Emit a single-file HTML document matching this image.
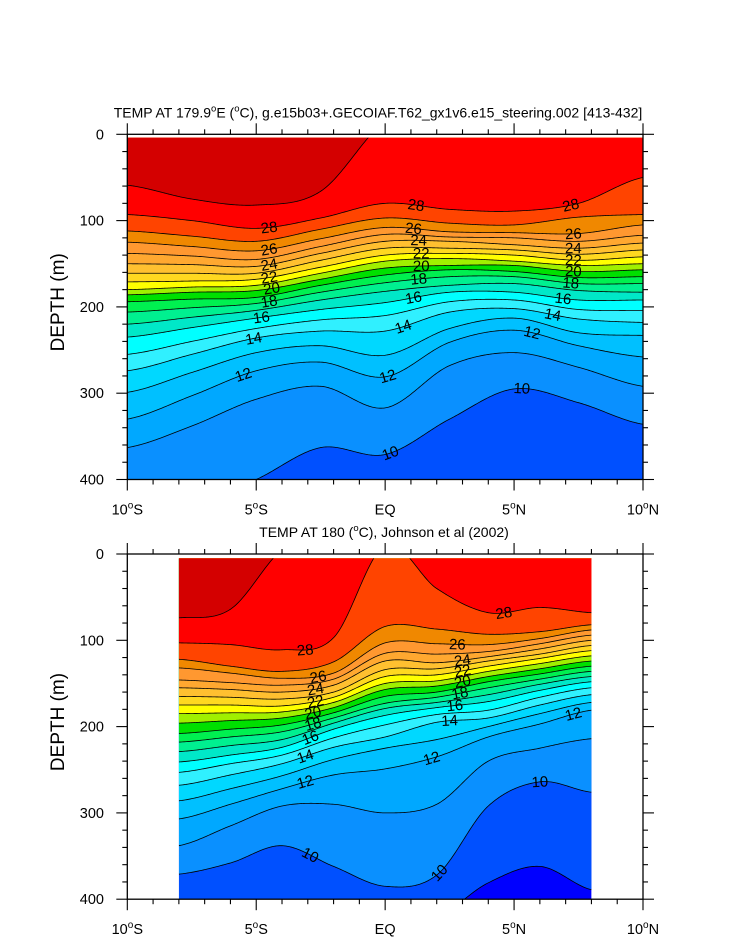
<!DOCTYPE html>
<html><head><meta charset="utf-8"><style>
html,body{margin:0;padding:0;background:#fff}
svg{display:block;font-family:"Liberation Sans",sans-serif}
</style></head><body>
<svg id="fig" width="733" height="945" viewBox="0 0 733 945" xmlns="http://www.w3.org/2000/svg"></svg>
<script>
const levels = [9,10,11,12,13,14,15,16,17,18,19,20,21,22,23,24,25,26,27,28,29];
const bandColors = ["#0050ff","#0a90ff","#00a8ff","#00c0ff","#00d8ff","#30f0ff","#00ffff","#00e8c8","#00f090","#00f050","#00e000","#a0f000","#ffff00","#ffd820","#ffc030","#ffa830","#ff9830","#f08800","#ff4400","#ff0000","#d40000"];
const belowColor = "#0000ff";

const topLats = [-10,-7.5,-5,-2.5,0,2.5,5,7.5,10];
const topDepths = [
 [450,450,450,450,450,450,450,450,450],
 [430,430,400,363,371,330,295,311,336],
 [363,338,307,292,317,268,253,270,292],
 [330,303,274,264,281,241,227,245,258],
 [299,276,253,245,256,225,213,230,233],
 [274,255,236,228,228,206,202,214,218],
 [255,240,225,215,210,194,192,203,204],
 [235,224,213,203,195,183,183,192,192],
 [220,212,204,192,182,175,173,181,183],
 [206,201,196,183,172,165,165,173,173],
 [194,191,189,175,163,157,159,166,165],
 [186,183,181,168,155,152,152,159,157],
 [180,177,175,161,147,144,147,152,150],
 [171,170,168,154,140,138,140,146,142],
 [161,161,161,146,132,132,134,139,134],
 [150,151,153,138,124,124,128,132,126],
 [138,141,145,130,116,119,120,124,117],
 [125,130,135,121,108,113,114,115,105],
 [112,118,124,110,97,103,105,96,93],
 [93,100,109,97,80,87,89,80,50],
 [59,75,82,66,-15,-40,-40,-40,-40]
];
const topLabelLats = [-4.5,-4.5,-4.5,-4.5,-4.4,-4.5,-4.8,-5.1,-5.5, 1.2,1.1,1.3,1.4,1.4,1.3,1.1,0.7,0.1,0.2, 7.2,7.3,7.3,7.3,7.3,7.2,6.9,6.5,5.7,5.3];
const topLabelLevels = [28,26,24,22,20,18,16,14,12, 28,26,24,22,20,18,16,14,12,10, 28,26,24,22,20,18,16,14,12,10];

const botLats = [-8,-6,-4,-2,0,2,4,6,8];
const botDepths = [
 [420,420,420,420,420,420,381,362,389],
 [371,358,338,362,385,372,292,264,276],
 [338,315,292,290,300,290,240,225,214],
 [307,290,272,256,249,235,212,197,181],
 [286,272,257,238,225,215,200,185,172],
 [268,256,243,224,212,195,190,175,163],
 [253,243,233,213,198,186,181,166,155],
 [241,233,224,203,187,178,171,158,148],
 [229,222,215,196,179,172,163,151,142],
 [218,212,206,190,173,166,155,145,136],
 [208,203,198,184,165,160,148,139,130],
 [196,193,190,178,157,153,142,133,124],
 [185,184,183,172,150,147,136,127,118],
 [175,175,176,166,142,140,130,121,112],
 [165,166,168,160,134,133,124,116,106],
 [155,157,160,152,124,126,119,110,100],
 [146,149,152,145,115,116,113,104,94],
 [132,138,144,138,103,104,105,98,88],
 [122,130,136,125,84,87,93,90,82],
 [103,105,111,97,-10,40,68,62,68],
 [74,64,-5,-30,-30,-30,-30,-30,-30]
];
const botLabelLats = [-3.1,-2.6,-2.7,-2.7,-2.8,-2.8,-2.9,-3.1,-3.1,-2.9, 4.6,2.8,3.0,3.0,3.0,2.9,2.7,2.5,1.8,2.1,6.0,7.3];
const botLabelLevels = [28,26,24,22,20,18,16,14,12,10, 28,26,24,22,20,18,16,14,12,10,10,12];

const xTickVals = [-10,-5,0,5,10];
const xTickLabels = [["10","S"],["5","S"],["EQ",""],["5","N"],["10","N"]];
const yTickVals = [0,100,200,300,400];

const NS = "http://www.w3.org/2000/svg";
const svg = document.getElementById("fig");
function mk(tag, attrs, parent){const e=document.createElementNS(NS,tag);for(const k in attrs)e.setAttribute(k,attrs[k]);(parent||svg).appendChild(e);return e;}

function curveAt(lats, vals, x){
  let i=0; while(i<lats.length-2 && x>lats[i+1]) i++;
  const t=(x-lats[i])/(lats[i+1]-lats[i]);
  const p0=vals[Math.max(0,i-1)], p1=vals[i], p2=vals[i+1], p3=vals[Math.min(vals.length-1,i+2)];
  const t2=t*t,t3=t2*t;
  return 0.5*((2*p1)+(-p0+p2)*t+(2*p0-5*p1+4*p2-p3)*t2+(-p0+3*p1-3*p2+p3)*t3);
}

function drawPanel(id, top, lats, depths, labLats, labLevels, dataLat0, dataLat1, dataD0, title){
  const L=127.3, R=643, H=345.2;
  const xs = lat => L + (lat+10)/20*(R-L);
  const ys = d => top + d/400*H;
  const g = mk("g",{});
  
  
  const clipId = id+"-clip";
  const cp = mk("clipPath",{id:clipId},g);
  mk("rect",{x:xs(dataLat0),y:ys(dataD0),width:xs(dataLat1)-xs(dataLat0),height:ys(400)-ys(dataD0)},cp);
  const dg = mk("g",{"clip-path":"url(#"+clipId+")"},g);
  
  
  const bg = mk("rect",{x:xs(dataLat0),y:ys(dataD0),width:xs(dataLat1)-xs(dataLat0),height:ys(400)-ys(dataD0),fill:belowColor},dg);
  
  
  const step=0.05;
  const lines=[];
  for(let k=0;k<levels.length;k++){
    const vals=depths[k];
    let pts=[];
    for(let lat=dataLat0;lat<=dataLat1+1e-9;lat+=step){
      let y=ys(curveAt(lats,vals,lat));
      y=Math.max(top-20,Math.min(ys(400)+20,y));
      pts.push(xs(lat).toFixed(2)+","+y.toFixed(2));
    }
    const poly = mk("polygon",{points:pts.join(" ")+" "+xs(dataLat1)+","+(top-30)+" "+xs(dataLat0)+","+(top-30),fill:bandColors[k]},dg);
    
    
    lines.push(pts);
  }
  for(let k=0;k<levels.length;k++){
    const pl = mk("polyline",{points:lines[k].join(" "),fill:"none",stroke:"#000","stroke-width":"0.8"},dg);
    
    
  }
  for(let i=0;i<labLats.length;i++){
    const k=levels.indexOf(labLevels[i]);
    const lat=labLats[i];
    const y=ys(curveAt(lats,depths[k],lat));
    const y2=ys(curveAt(lats,depths[k],lat+0.2));
    const ang=Math.atan2(y2-y,xs(lat+0.2)-xs(lat))*180/Math.PI;
    const cx=xs(lat);
    const t=mk("text",{x:cx,y:y+5,"text-anchor":"middle","font-size":"15",fill:"#000",transform:"rotate("+ang.toFixed(1)+" "+cx+" "+y+")"},dg);
    t.textContent=String(labLevels[i]);
    
    
  }
  const fr = mk("rect",{x:L,y:top,width:R-L,height:H,fill:"none",stroke:"#000","stroke-width":"1.3"},g);
  
  
  const tg = mk("g",{stroke:"#000","stroke-width":"1.1"},g);
  
  
  for(let lat=-10;lat<=10;lat++){
    const x=xs(lat), major=lat%5===0, len=major?11:5;
    mk("line",{x1:x,y1:ys(400),x2:x,y2:ys(400)+len},tg);
    mk("line",{x1:x,y1:top,x2:x,y2:top-len},tg);
  }
  for(let d=0;d<=400;d+=20){
    const y=ys(d), major=d%100===0, len=major?11:5;
    mk("line",{x1:L,y1:y,x2:L-len,y2:y},tg);
    mk("line",{x1:R,y1:y,x2:R+len,y2:y},tg);
  }
  for(let i=0;i<yTickVals.length;i++){
    const t=mk("text",{x:104,y:ys(yTickVals[i])+5,"text-anchor":"end","font-size":"14.5"},g);
    t.textContent=String(yTickVals[i]);
    
    
  }
  for(let i=0;i<xTickVals.length;i++){
    const t=mk("text",{x:xs(xTickVals[i]),y:ys(400)+35,"text-anchor":"middle","font-size":"14.5"},g);
    
    
    const a=xTickLabels[i];
    const s1=mk("tspan",{},t); s1.textContent=a[0];
    if(a[1]){const s2=mk("tspan",{"font-size":"10",dy:"-6"},t); s2.textContent="o";
      const s3=mk("tspan",{dy:"6"},t); s3.textContent=a[1];}
  }
  const yt=mk("text",{x:0,y:0,"text-anchor":"middle","font-size":"19",transform:"translate(64,"+(top+168)+") rotate(-90)"},g);
  yt.textContent="DEPTH (m)";
  
  
  const tt=mk("text",{x:title.x,y:top-17,"text-anchor":"middle","font-size":"14"},g);
  
  
  title.parts.forEach(p=>{const s=mk("tspan",p.sup?{"font-size":"9.5",dy:"-6"}:(p.down?{dy:"6"}:{}),tt); s.textContent=p.t;});
}

drawPanel("top-panel",134.3,topLats,topDepths,topLabelLats,topLabelLevels,-10,10,4,
 {x:378,parts:[{t:"TEMP AT 179.9"},{t:"o",sup:1},{t:"E (",down:1},{t:"o",sup:1},{t:"C), g.e15b03+.GECOIAF.T62_gx1v6.e15_steering.002 [413-432]",down:1}]});
drawPanel("bottom-panel",554,botLats,botDepths,botLabelLats,botLabelLevels,-8,8,5,
 {x:384,parts:[{t:"TEMP AT 180 ("},{t:"o",sup:1},{t:"C), Johnson et al (2002)",down:1}]});
</script>
</body></html>
